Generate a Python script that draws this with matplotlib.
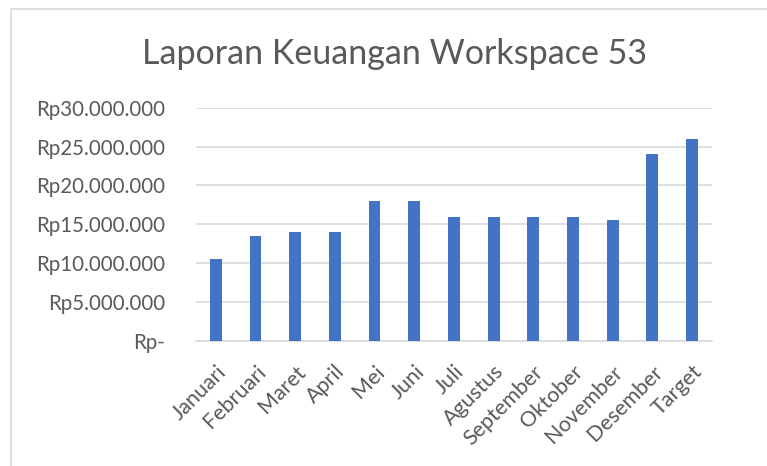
import matplotlib.pyplot as plt
from matplotlib.patches import Rectangle
from matplotlib.ticker import FuncFormatter

# Data
bulan = ['Januari', 'Februari', 'Maret', 'April', 'Mei', 'Juni', 'Juli',
         'Agustus', 'September', 'Oktober', 'November', 'Desember', 'Target']
nilai = [10_500_000, 13_500_000, 14_000_000, 14_000_000, 18_000_000, 18_000_000,
         16_000_000, 16_000_000, 16_000_000, 16_000_000, 15_500_000,
         24_000_000, 26_000_000]
y_ticks = [0, 5_000_000, 10_000_000, 15_000_000, 20_000_000, 25_000_000, 30_000_000]

plt.rcParams['font.family'] = ['Lato', 'DejaVu Sans']
text_color = '#595959'

fig = plt.figure(figsize=(7.67, 4.66), dpi=100)
ax = fig.add_axes([0.2555, 0.2689, 0.6725, 0.4996])

# chart area border (Excel style)
fig.patches.append(Rectangle((11 / 767, -0.1), 1.2, (466 - 9) / 466 + 0.1,
                             transform=fig.transFigure, facecolor='none',
                             edgecolor='#D9D9D9', linewidth=1.2))

ax.bar(range(len(bulan)), nilai, width=0.3, color='#4472C4', zorder=3)

ax.set_xlim(-0.5, len(bulan) - 0.5)
ax.set_ylim(0, 30_000_000)
ax.set_yticks(y_ticks)


def rupiah(v, pos):
    if v == 0:
        return 'Rp-'
    return 'Rp' + f'{int(v):,}'.replace(',', '.')


ax.yaxis.set_major_formatter(FuncFormatter(rupiah))
ax.set_xticks(range(len(bulan)))
ax.set_xticklabels(bulan, rotation=45, ha='right', rotation_mode='anchor')

ax.grid(axis='y', color='#D9D9D9', linewidth=1.2, zorder=0)
for s in ['top', 'right', 'left']:
    ax.spines[s].set_visible(False)
ax.spines['bottom'].set_color('#D9D9D9')
ax.spines['bottom'].set_linewidth(1.2)
ax.tick_params(axis='both', length=0, colors=text_color, labelsize=14.8)
ax.tick_params(axis='y', pad=22)
ax.tick_params(axis='x', pad=15, labelsize=15.5)

fig.text(0.514, 0.885, 'Laporan Keuangan Workspace 53', ha='center', va='center',
         fontsize=24.5, color=text_color)

fig.savefig('out.png', dpi=100)
